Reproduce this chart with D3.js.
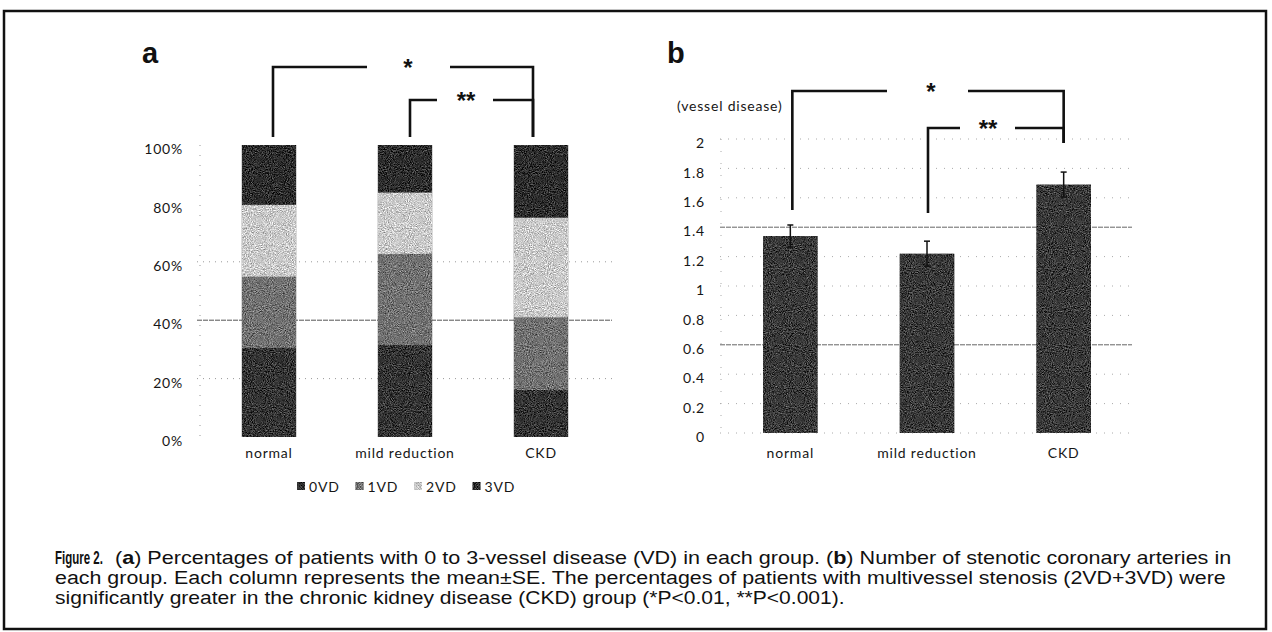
<!DOCTYPE html>
<html>
<head>
<meta charset="utf-8">
<script src="https://cdn.jsdelivr.net/npm/d3@7"></script>
<style>
  body { margin: 0; background: #fff; }
  svg { display: block; }
  .tick-label { font-family: Lato, 'Open Sans', sans-serif; font-size: 14px; letter-spacing: 0.8px; fill: #161616; }
  .caption { font-family: 'Liberation Sans', Arial, sans-serif; font-size: 18px; fill: #111; }
</style>
</head>
<body>
<svg id="fig" width="1272" height="632"></svg>
<script>
// data
var groups = ['normal', 'mild reduction', 'CKD'];
var vdKeys = ['0VD', '1VD', '2VD', '3VD'];
var pct0VD = [30.5, 31.5, 16.1];
var pct1VD = [24.4, 31.2, 24.9];
var pct2VD = [24.6, 21.0, 34.1];
var pct3VD = [20.5, 16.3, 24.9];
var pctTicks = [0, 20, 40, 60, 80, 100];
var vesselMean = [1.34, 1.22, 1.69];
var vesselSE = [0.075, 0.085, 0.085];
var vesselTicks = [0, 0.2, 0.4, 0.6, 0.8, 1, 1.2, 1.4, 1.6, 1.8, 2];

var vdColors = ['#353535', '#727272', '#cbcbcb', '#2e2e2e'];
var barColor = '#3a3a3a';

var svg = d3.select('#fig');

// scan-like grain for the filled marks
var defs = svg.append('defs');
var grain = defs.append('filter')
  .attr('id', 'grain')
  .attr('x', 0).attr('y', 0).attr('width', '100%').attr('height', '100%')
  .attr('color-interpolation-filters', 'sRGB');
grain.append('feTurbulence')
  .attr('type', 'fractalNoise').attr('baseFrequency', 0.95).attr('numOctaves', 2).attr('seed', 4)
  .attr('result', 'noise');
grain.append('feColorMatrix')
  .attr('in', 'noise').attr('type', 'matrix')
  .attr('values', '0.33 0.33 0.33 0 0  0.33 0.33 0.33 0 0  0.33 0.33 0.33 0 0  0 0 0 0 1')
  .attr('result', 'gray');
grain.append('feComposite')
  .attr('in', 'SourceGraphic').attr('in2', 'gray').attr('operator', 'arithmetic')
  .attr('k1', 0).attr('k2', 1).attr('k3', 1.3).attr('k4', -0.65)
  .attr('result', 'mix');
grain.append('feComposite')
  .attr('in', 'mix').attr('in2', 'SourceGraphic').attr('operator', 'in');

// outer frame
svg.append('rect')
  .attr('x', 4).attr('y', 11).attr('width', 1262).attr('height', 618)
  .attr('fill', 'none').attr('stroke', '#111').attr('stroke-width', 2.5);

function panelLetter(x, txt)
{
  svg.append('text')
    .attr('x', x).attr('y', 63)
    .attr('font-family', 'Liberation Sans, Arial, sans-serif')
    .attr('font-weight', 'bold')
    .attr('font-size', 29)
    .attr('fill', '#111')
    .text(txt);
}

function bracket(x1, x2, yTop, yLeft, yRight, gapL, gapR, label, labelX)
{
  var g = svg.append('g')
    .attr('fill', 'none').attr('stroke', '#111').attr('stroke-width', 2.6);
  g.append('path').attr('d', 'M' + x1 + ',' + yLeft + 'V' + yTop + 'H' + gapL);
  g.append('path').attr('d', 'M' + gapR + ',' + yTop + 'H' + x2 + 'V' + yRight);
  svg.append('text')
    .attr('x', labelX).attr('y', yTop + 9)
    .attr('text-anchor', 'middle')
    .attr('font-family', 'Liberation Sans, Arial, sans-serif')
    .attr('font-weight', 'bold')
    .attr('font-size', 24)
    .attr('fill', '#111')
    .text(label);
}

// fit a text to a given width by scaling it horizontally
function squeeze(sel, x, y, width)
{
  var w = sel.node().getComputedTextLength();
  sel.attr('transform', 'translate(' + x + ',' + y + ') scale(' + (width / w) + ',1)');
}

// ---------- panel a : stacked percentages ----------
var xa = d3.scaleBand().domain(groups).range([201, 609]).paddingInner(0.6).paddingOuter(0.3);
var ya = d3.scaleLinear().domain([0, 100]).range([437, 145]);

var rowsA = groups.map((g, i) => ({group: g, '0VD': pct0VD[i], '1VD': pct1VD[i], '2VD': pct2VD[i], '3VD': pct3VD[i]}));
var stackA = d3.stack().keys(vdKeys)(rowsA);

// grid
[20, 40, 60].forEach(v => {
  svg.append('line')
    .attr('x1', 197).attr('x2', 612)
    .attr('y1', ya(v)).attr('y2', ya(v))
    .attr('stroke', v === 40 ? '#555' : '#999')
    .attr('stroke-width', 1)
    .attr('stroke-dasharray', v === 40 ? '5,1' : '1,5');
});
svg.append('line')
  .attr('x1', 200).attr('x2', 200).attr('y1', 145).attr('y2', 440)
  .attr('stroke', '#999').attr('stroke-dasharray', '1,9');

var axA = svg.append('g')
  .attr('transform', 'translate(200,0)')
  .call(d3.axisLeft(ya).tickValues(pctTicks).tickSize(0).tickPadding(17).tickFormat(d => d + '%'));
axA.select('.domain').remove();
axA.selectAll('text').attr('class', 'tick-label').attr('dy', '0.62em').attr('font-family', null).attr('font-size', null);

var barsA = svg.append('g').attr('filter', 'url(#grain)');
barsA.selectAll('g')
  .data(stackA)
  .enter()
  .append('g')
  .attr('fill', (d, i) => vdColors[i])
  .selectAll('rect')
  .data(d => d)
  .enter()
  .append('rect')
  .attr('x', d => xa(d.data.group))
  .attr('width', xa.bandwidth())
  .attr('y', d => ya(d[1]))
  .attr('height', d => ya(d[0]) - ya(d[1]));

var axAx = svg.append('g')
  .attr('transform', 'translate(0,437)')
  .call(d3.axisBottom(xa).tickSize(0).tickPadding(11));
axAx.select('.domain').remove();
axAx.selectAll('text').attr('class', 'tick-label').attr('font-family', null).attr('font-size', null);

// legend
var legend = svg.append('g').attr('transform', 'translate(297,487)');
var items = legend.selectAll('g')
  .data(vdKeys)
  .enter()
  .append('g')
  .attr('transform', (d, i) => 'translate(' + (i * 58.5) + ',0)');
items.append('rect')
  .attr('x', 0).attr('y', -5).attr('width', 8).attr('height', 8)
  .attr('fill', (d, i) => vdColors[i])
  .attr('filter', 'url(#grain)');
items.append('text')
  .attr('class', 'tick-label')
  .attr('x', 12).attr('y', 5)
  .text(d => d);

panelLetter(142, 'a');
var ca = groups.map(g => xa(g) + xa.bandwidth() / 2);
bracket(ca[0] + 4, ca[2] - 8, 67, 137, 137, 367, 450, '*', 408);
bracket(ca[1] + 5, ca[2] - 8, 100, 137, 137, 437, 493, '**', 466);

// ---------- panel b : mean vessel count ----------
var xb = d3.scaleBand().domain(groups).range([722, 1132]).paddingInner(0.6).paddingOuter(0.3);
var yb = d3.scaleLinear().domain([0, 2]).range([433, 139]);

vesselTicks.slice(1).forEach(v => {
  var strong = (v === 1.4 || v === 0.6);
  svg.append('line')
    .attr('x1', 720).attr('x2', 1132)
    .attr('y1', yb(v)).attr('y2', yb(v))
    .attr('stroke', strong ? '#666' : '#aaa')
    .attr('stroke-width', 1)
    .attr('stroke-dasharray', strong ? '5,1' : '1,7');
});
svg.append('line')
  .attr('x1', 720).attr('x2', 1134).attr('y1', 433).attr('y2', 433)
  .attr('stroke', '#aaa').attr('stroke-dasharray', '1,7');
svg.append('line')
  .attr('x1', 721).attr('x2', 721).attr('y1', 139).attr('y2', 433)
  .attr('stroke', '#aaa').attr('stroke-dasharray', '1,11');

var axB = svg.append('g')
  .attr('transform', 'translate(720,0)')
  .call(d3.axisLeft(yb).tickValues(vesselTicks).tickSize(0).tickPadding(15).tickFormat(d3.format('~g')));
axB.select('.domain').remove();
axB.selectAll('text').attr('class', 'tick-label').attr('dy', '0.62em').attr('font-family', null).attr('font-size', null);

svg.append('text')
  .attr('class', 'tick-label')
  .attr('x', 677).attr('y', 111)
  .text('(vessel disease)');

svg.append('g')
  .attr('filter', 'url(#grain)')
  .selectAll('rect')
  .data(groups)
  .enter()
  .append('rect')
  .attr('fill', barColor)
  .attr('x', d => xb(d))
  .attr('width', xb.bandwidth())
  .attr('y', (d, i) => yb(vesselMean[i]))
  .attr('height', (d, i) => yb(0) - yb(vesselMean[i]));

// error bars
var err = svg.append('g').attr('stroke', '#111').attr('stroke-width', 1.5);
groups.forEach((g, i) => {
  var cx = xb(g) + xb.bandwidth() / 2;
  var hi = yb(vesselMean[i] + vesselSE[i]);
  var lo = yb(vesselMean[i] - vesselSE[i]);
  err.append('line').attr('x1', cx).attr('x2', cx).attr('y1', hi).attr('y2', lo);
  err.append('line').attr('x1', cx - 3).attr('x2', cx + 3).attr('y1', hi).attr('y2', hi);
  err.append('line').attr('x1', cx - 3).attr('x2', cx + 3).attr('y1', lo).attr('y2', lo);
});

var axBx = svg.append('g')
  .attr('transform', 'translate(0,433)')
  .call(d3.axisBottom(xb).tickSize(0).tickPadding(15));
axBx.select('.domain').remove();
axBx.selectAll('text').attr('class', 'tick-label').attr('font-family', null).attr('font-size', null);

panelLetter(667, 'b');
var cb = groups.map(g => xb(g) + xb.bandwidth() / 2);
bracket(cb[0] + 2, cb[2], 91, 210, 143, 887, 968, '*', 931);
bracket(cb[1] + 1, cb[2], 128, 213, 143, 960, 1015, '**', 988);

// ---------- caption ----------
var cap = svg.append('g').attr('class', 'caption');
var fig = cap.append('text')
  .attr('x', 0).attr('y', 0)
  .attr('font-family', 'Liberation Sans Narrow, Liberation Sans, Arial, sans-serif')
  .attr('font-weight', 'bold')
  .attr('font-size', 19)
  .text('Figure 2.');
squeeze(fig, 55, 564, 48);

var l1 = cap.append('text').attr('x', 0).attr('y', 0);
l1.append('tspan').text('(');
l1.append('tspan').attr('font-weight', 'bold').text('a');
l1.append('tspan').text(') Percentages of patients with 0 to 3-vessel disease (VD) in each group. (');
l1.append('tspan').attr('font-weight', 'bold').text('b');
l1.append('tspan').text(') Number of stenotic coronary arteries in');
squeeze(l1, 115, 564, 1117);

var l2 = cap.append('text').attr('x', 0).attr('y', 0)
  .text('each group. Each column represents the mean\u00b1SE. The percentages of patients with multivessel stenosis (2VD+3VD) were');
squeeze(l2, 55, 584, 1172);

var l3 = cap.append('text').attr('x', 0).attr('y', 0)
  .text('significantly greater in the chronic kidney disease (CKD) group (*P<0.01, **P<0.001).');
squeeze(l3, 55, 604, 790);
</script>
</body>
</html>
